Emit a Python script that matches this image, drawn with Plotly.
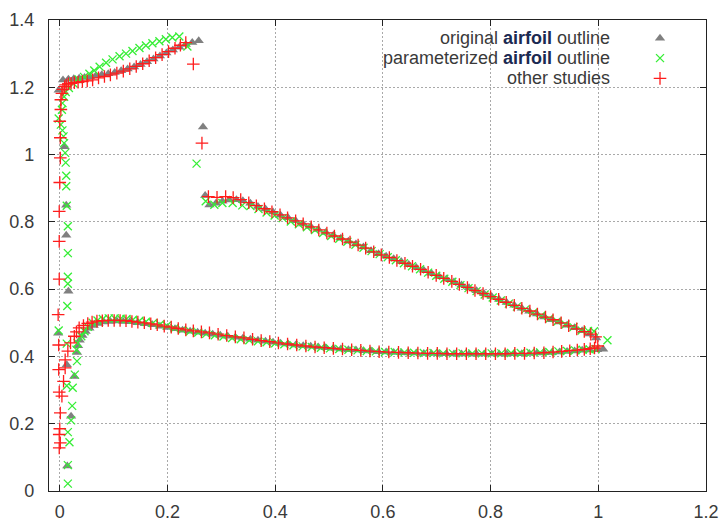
import plotly.graph_objects as go

# ---------------------------------------------------------------------------
# Airfoil outline samples (chord-normalised x, y)
# ---------------------------------------------------------------------------

# original airfoil outline: leading edge column + upper slat surface
orig_le_x = [0.014, 0.021, 0.027, 0.013, -0.003, 0.016, 0.012, 0.012, 0.009, -0.002,
             0.006, 0.016, 0.026, 0.036, 0.046, 0.056, 0.067, 0.078, 0.090, 0.102,
             0.114, 0.126, 0.138, 0.150, 0.162, 0.174, 0.186, 0.198, 0.210, 0.222,
             0.234, 0.246, 0.258, 0.266]
orig_le_y = [0.074, 0.222, 0.340, 0.375, 0.469, 0.594, 0.760, 0.849, 1.023, 1.191,
             1.222, 1.224, 1.225, 1.227, 1.229, 1.231, 1.234, 1.237, 1.240, 1.244,
             1.249, 1.254, 1.260, 1.268, 1.276, 1.284, 1.293, 1.302, 1.311, 1.319,
             1.327, 1.333, 1.338, 1.082]

# original airfoil outline: upper surface of the main element
orig_up_x = [0.270, 0.278, 0.290, 0.302, 0.315, 0.328, 0.340, 0.354, 0.368, 0.382,
             0.396, 0.410, 0.424, 0.438, 0.452, 0.466, 0.480, 0.494, 0.508, 0.522,
             0.536, 0.550, 0.564, 0.578, 0.592, 0.606, 0.620, 0.634, 0.648, 0.662,
             0.676, 0.690, 0.704, 0.718, 0.732, 0.746, 0.760, 0.774, 0.788, 0.802,
             0.816, 0.830, 0.844, 0.858, 0.872, 0.886, 0.900, 0.914, 0.928, 0.942,
             0.956, 0.970, 0.984, 0.996]
orig_up_y = [0.878, 0.850, 0.855, 0.861, 0.865, 0.866, 0.863, 0.855, 0.846, 0.838,
             0.829, 0.820, 0.812, 0.803, 0.794, 0.786, 0.777, 0.768, 0.760, 0.751,
             0.742, 0.734, 0.725, 0.714, 0.705, 0.698, 0.690, 0.682, 0.673, 0.664,
             0.656, 0.647, 0.638, 0.630, 0.621, 0.612, 0.604, 0.595, 0.586, 0.578,
             0.569, 0.560, 0.552, 0.543, 0.534, 0.526, 0.517, 0.509, 0.502, 0.493,
             0.485, 0.476, 0.467, 0.455]

# original airfoil outline: lower surface of the main element
orig_lo_x = [0.032, 0.034, 0.037, 0.042, 0.048, 0.055, 0.063, 0.072, 0.082, 0.094,
             0.106, 0.118, 0.130, 0.144, 0.158, 0.172, 0.186, 0.200, 0.214, 0.228,
             0.242, 0.256, 0.270, 0.284, 0.298, 0.312, 0.326, 0.340, 0.354, 0.368,
             0.382, 0.396, 0.410, 0.424, 0.438, 0.452, 0.466, 0.480, 0.494, 0.508,
             0.522, 0.536, 0.550, 0.564, 0.578, 0.592, 0.606, 0.620, 0.634, 0.648,
             0.662, 0.676, 0.690, 0.704, 0.718, 0.732, 0.746, 0.760, 0.774, 0.788,
             0.802, 0.816, 0.830, 0.844, 0.858, 0.872, 0.886, 0.900, 0.914, 0.928,
             0.942, 0.956, 0.970, 0.984, 0.998, 1.009]
orig_lo_y = [0.412, 0.432, 0.448, 0.462, 0.474, 0.484, 0.492, 0.498, 0.502, 0.504,
             0.505, 0.504, 0.503, 0.500, 0.497, 0.494, 0.490, 0.486, 0.482, 0.478,
             0.475, 0.472, 0.469, 0.466, 0.463, 0.460, 0.457, 0.454, 0.451, 0.448,
             0.445, 0.442, 0.439, 0.437, 0.434, 0.432, 0.430, 0.428, 0.426, 0.424,
             0.422, 0.420, 0.419, 0.417, 0.416, 0.414, 0.413, 0.412, 0.411, 0.410,
             0.410, 0.409, 0.409, 0.408, 0.408, 0.407, 0.407, 0.407, 0.407, 0.407,
             0.407, 0.407, 0.407, 0.408, 0.408, 0.409, 0.410, 0.411, 0.412, 0.413,
             0.415, 0.416, 0.418, 0.419, 0.420, 0.421]

# parameterized airfoil outline: leading edge column + upper slat surface
param_le_x = [0.015, 0.015, 0.018, 0.015, 0.021, 0.023, 0.013, 0.024, 0.028, 0.032,
              0.031, 0.013, -0.002, 0.014, 0.015, 0.015, 0.015, 0.015, 0.013, 0.012,
              0.012, 0.011, 0.010, 0.008, 0.007, 0.005, 0.002, -0.002, 0.004, 0.005,
              0.008, 0.011, 0.017, 0.025, 0.035, 0.045, 0.055, 0.064, 0.074, 0.086,
              0.098, 0.111, 0.123, 0.135, 0.148, 0.160, 0.172, 0.185, 0.197, 0.209,
              0.222, 0.237, 0.254]
param_le_y = [0.022, 0.077, 0.145, 0.175, 0.210, 0.253, 0.313, 0.307, 0.346, 0.386,
              0.420, 0.438, 0.477, 0.550, 0.616, 0.637, 0.707, 0.787, 0.848, 0.906,
              0.937, 0.976, 1.005, 1.034, 1.054, 1.072, 1.089, 1.107, 1.133, 1.153,
              1.172, 1.186, 1.198, 1.212, 1.223, 1.231, 1.240, 1.250, 1.261, 1.273,
              1.283, 1.292, 1.300, 1.308, 1.317, 1.324, 1.331, 1.337, 1.343, 1.348,
              1.351, 1.321, 0.973]

# parameterized airfoil outline: upper surface of the main element
param_up_x = [0.271, 0.287, 0.302, 0.321, 0.339, 0.354, 0.369, 0.384, 0.399, 0.414,
              0.429, 0.444, 0.459, 0.474, 0.489, 0.504, 0.519, 0.534, 0.549, 0.564,
              0.579, 0.594, 0.609, 0.624, 0.639, 0.654, 0.669, 0.684, 0.699, 0.714,
              0.729, 0.744, 0.759, 0.774, 0.789, 0.804, 0.819, 0.834, 0.849, 0.864,
              0.879, 0.894, 0.909, 0.924, 0.939, 0.954, 0.969, 0.981, 0.992, 1.017]
param_up_y = [0.861, 0.851, 0.856, 0.856, 0.849, 0.847, 0.838, 0.828, 0.819, 0.811,
              0.801, 0.793, 0.784, 0.776, 0.767, 0.758, 0.750, 0.741, 0.732, 0.723,
              0.713, 0.704, 0.695, 0.686, 0.677, 0.668, 0.659, 0.649, 0.640, 0.631,
              0.622, 0.612, 0.603, 0.594, 0.584, 0.575, 0.566, 0.557, 0.548, 0.539,
              0.530, 0.521, 0.512, 0.504, 0.495, 0.487, 0.477, 0.476, 0.475, 0.448]

# parameterized airfoil outline: lower surface of the main element
param_lo_x = [0.033, 0.040, 0.046, 0.052, 0.061, 0.070, 0.080, 0.091, 0.102, 0.113,
              0.124, 0.136, 0.148, 0.160, 0.173, 0.186, 0.199, 0.213, 0.227, 0.242,
              0.257, 0.272, 0.288, 0.304, 0.320, 0.336, 0.352, 0.368, 0.384, 0.400,
              0.417, 0.434, 0.451, 0.468, 0.485, 0.502, 0.519, 0.536, 0.553, 0.570,
              0.587, 0.604, 0.622, 0.640, 0.658, 0.676, 0.694, 0.712, 0.730, 0.748,
              0.766, 0.784, 0.802, 0.820, 0.838, 0.856, 0.874, 0.892, 0.909, 0.926,
              0.942, 0.957, 0.971, 0.984, 0.995]
param_lo_y = [0.440, 0.460, 0.475, 0.488, 0.500, 0.507, 0.511, 0.513, 0.513, 0.512,
              0.511, 0.509, 0.506, 0.503, 0.499, 0.495, 0.491, 0.484, 0.479, 0.475,
              0.471, 0.467, 0.463, 0.459, 0.455, 0.451, 0.448, 0.445, 0.442, 0.439,
              0.436, 0.433, 0.430, 0.428, 0.426, 0.424, 0.422, 0.420, 0.418, 0.416,
              0.415, 0.413, 0.413, 0.412, 0.411, 0.410, 0.410, 0.409, 0.409, 0.409,
              0.409, 0.409, 0.409, 0.409, 0.410, 0.410, 0.411, 0.412, 0.413, 0.415,
              0.416, 0.418, 0.420, 0.421, 0.422]

# other studies: leading edge column + upper slat surface
other_le_x = [-0.001, 0.001, -0.001, 0.000, 0.001, 0.004, -0.001, 0.007, -0.002, 0.010,
              0.010, -0.002, 0.015, 0.020, 0.027, 0.031, 0.036, 0.044, -0.003, -0.001,
              -0.001, -0.001, 0.000, 0.001, 0.001, 0.000, 0.002, 0.002, 0.004, 0.006,
              0.009, 0.012, 0.016, 0.021, 0.027, 0.034, 0.042, 0.051, 0.061, 0.072,
              0.083, 0.094, 0.106, 0.118, 0.130, 0.142, 0.154, 0.166, 0.178, 0.190,
              0.202, 0.214, 0.224, 0.234, 0.248, 0.264]
other_le_y = [0.128, 0.143, 0.168, 0.185, 0.232, 0.282, 0.294, 0.326, 0.361, 0.366,
              0.390, 0.434, 0.416, 0.440, 0.460, 0.473, 0.485, 0.492, 0.524, 0.630,
              0.742, 0.831, 0.917, 0.990, 1.050, 1.099, 1.134, 1.163, 1.182, 1.194,
              1.202, 1.207, 1.210, 1.212, 1.214, 1.215, 1.217, 1.219, 1.222, 1.228,
              1.232, 1.237, 1.242, 1.248, 1.255, 1.262, 1.270, 1.279, 1.288, 1.297,
              1.306, 1.316, 1.325, 1.333, 1.269, 1.034]

# other studies: upper surface of the main element
other_up_x = [0.276, 0.292, 0.308, 0.322, 0.336, 0.351, 0.365, 0.380, 0.394, 0.409,
              0.423, 0.438, 0.452, 0.467, 0.481, 0.496, 0.510, 0.525, 0.539, 0.554,
              0.568, 0.583, 0.597, 0.612, 0.626, 0.641, 0.655, 0.670, 0.684, 0.699,
              0.713, 0.728, 0.742, 0.757, 0.771, 0.786, 0.800, 0.815, 0.829, 0.844,
              0.858, 0.873, 0.887, 0.902, 0.916, 0.931, 0.945, 0.960, 0.974, 0.986,
              0.995]
other_up_y = [0.875, 0.873, 0.875, 0.872, 0.866, 0.857, 0.848, 0.839, 0.830, 0.821,
              0.812, 0.803, 0.794, 0.785, 0.776, 0.767, 0.758, 0.749, 0.740, 0.731,
              0.722, 0.711, 0.702, 0.694, 0.685, 0.677, 0.668, 0.659, 0.650, 0.641,
              0.632, 0.623, 0.614, 0.605, 0.596, 0.587, 0.578, 0.570, 0.561, 0.552,
              0.543, 0.535, 0.526, 0.517, 0.509, 0.500, 0.491, 0.482, 0.474, 0.466,
              0.458]

# other studies: lower surface of the main element
other_lo_x = [0.052, 0.060, 0.069, 0.079, 0.090, 0.101, 0.112, 0.123, 0.134, 0.145,
              0.157, 0.169, 0.181, 0.194, 0.207, 0.220, 0.234, 0.248, 0.263, 0.278,
              0.294, 0.310, 0.326, 0.342, 0.358, 0.374, 0.390, 0.406, 0.423, 0.440,
              0.457, 0.474, 0.491, 0.508, 0.525, 0.542, 0.559, 0.576, 0.593, 0.611,
              0.629, 0.647, 0.665, 0.683, 0.701, 0.719, 0.737, 0.755, 0.773, 0.791,
              0.809, 0.827, 0.845, 0.863, 0.881, 0.899, 0.916, 0.932, 0.947, 0.961,
              0.974, 0.985, 0.993, 0.999]
other_lo_y = [0.498, 0.502, 0.505, 0.506, 0.507, 0.507, 0.507, 0.506, 0.504, 0.502,
              0.500, 0.497, 0.494, 0.490, 0.487, 0.483, 0.479, 0.476, 0.473, 0.470,
              0.466, 0.462, 0.458, 0.455, 0.451, 0.447, 0.444, 0.440, 0.437, 0.434,
              0.431, 0.428, 0.426, 0.424, 0.422, 0.420, 0.418, 0.416, 0.414, 0.413,
              0.412, 0.411, 0.410, 0.409, 0.409, 0.408, 0.408, 0.408, 0.408, 0.408,
              0.408, 0.408, 0.409, 0.409, 0.410, 0.411, 0.413, 0.415, 0.417, 0.419,
              0.421, 0.423, 0.425, 0.431]

# axis ticks
x_ticks = [0, 0.2, 0.4, 0.6, 0.8, 1.0, 1.2]
x_tick_labels = ["0", "0.2", "0.4", "0.6", "0.8", "1", "1.2"]
y_ticks = [0, 0.2, 0.4, 0.6, 0.8, 1.0, 1.2, 1.4]
y_tick_labels = ["0", "0.2", "0.4", "0.6", "0.8", "1", "1.2", "1.4"]

# legend entries
series_names = [
    "original <b><span style='color:#1b2a52'>airfoil</span></b> outline",
    "parameterized <b><span style='color:#1b2a52'>airfoil</span></b> outline",
    "other studies",
]

# ---------------------------------------------------------------------------
GRAY = "#808080"
GREEN = "#35ee35"
RED = "#ff1c1c"
TEXT = "#3a3a3a"
FONT = "Liberation Sans, Arial, sans-serif"

styles = [
    dict(symbol="triangle-up", size=9, color=GRAY, line=dict(width=0)),
    dict(symbol="x-thin", size=8, color=GREEN, line=dict(width=1.3, color=GREEN)),
    dict(symbol="cross-thin", size=9, color=RED, line=dict(width=1.3, color=RED)),
]

series = [
    (orig_le_x + orig_up_x + orig_lo_x, orig_le_y + orig_up_y + orig_lo_y),
    (param_le_x + param_up_x + param_lo_x, param_le_y + param_up_y + param_lo_y),
    (other_le_x + other_up_x + other_lo_x, other_le_y + other_up_y + other_lo_y),
]

fig = go.Figure()
for (xs, ys), st, name in zip(series, styles, series_names):
    fig.add_trace(go.Scatter(x=xs, y=ys, mode="markers", marker=st,
                             name=name, showlegend=False, hoverinfo="x+y"))

# key: text right-aligned, sample symbol to its right (gnuplot style)
key_text_x = 0.857
key_symbol_x = 0.930
key_rows = [0.961, 0.919, 0.876]
for row_y, st, name in zip(key_rows, styles, series_names):
    fig.add_trace(go.Scatter(x=[key_symbol_x], y=[row_y], mode="markers",
                             marker=st, xaxis="x2", yaxis="y2",
                             showlegend=False, hoverinfo="skip"))
    fig.add_annotation(x=key_text_x, y=row_y, xref="paper", yref="paper",
                       text=name, showarrow=False, xanchor="right", yanchor="middle",
                       font=dict(family=FONT, size=18, color=TEXT))

# opaque key background hides the grid behind the labels
fig.add_shape(type="rect", xref="paper", yref="paper", x0=0.492, x1=1.0, y0=0.860, y1=1.0,
              fillcolor="white", line=dict(width=0), layer="between")

axis_common = dict(
    showline=True, linecolor="#222222", linewidth=1.3, mirror="ticks",
    ticks="inside", ticklen=6, tickwidth=1.3, tickcolor="#222222",
    showgrid=True, gridcolor="#a9a9a9", gridwidth=1, griddash="2px,2px",
    zeroline=False, automargin=False,
    tickfont=dict(family=FONT, size=18, color=TEXT),
)

fig.update_layout(
    width=722, height=522,
    margin=dict(l=49, r=16, t=20, b=31),
    paper_bgcolor="white", plot_bgcolor="white",
    showlegend=False,
    xaxis=dict(range=[-0.02, 1.2], tickvals=x_ticks, ticktext=x_tick_labels,
               ticklabelstandoff=4, **axis_common),
    yaxis=dict(range=[0, 1.4], tickvals=y_ticks, ticktext=y_tick_labels,
               ticklabelstandoff=10, **axis_common),
    xaxis2=dict(range=[0, 1], overlaying="x", visible=False, fixedrange=True),
    yaxis2=dict(range=[0, 1], overlaying="y", visible=False, fixedrange=True),
)

fig.write_html("out.html")
